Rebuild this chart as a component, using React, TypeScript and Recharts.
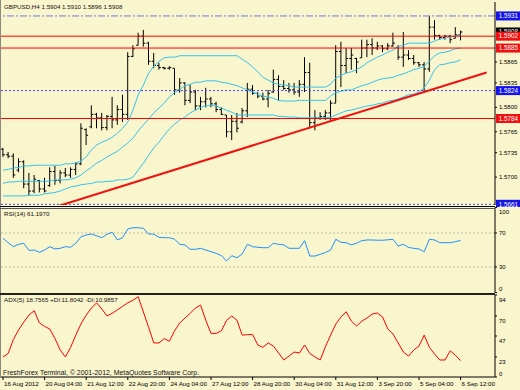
import React from 'react';
import { ComposedChart, Bar, Line, XAxis, YAxis, ReferenceLine } from 'recharts';

const FONT = '"Liberation Sans", Arial, sans-serif';

const symbol = 'GBPUSD,H4';

// H4 bars, 16 Aug 2012 20:00 .. 6 Sep 2012 12:00
const opens = [
  1.5740, 1.5732, 1.5730, 1.5710, 1.5722, 1.5690, 1.5680, 1.5695, 1.5683, 1.5688,
  1.5708, 1.5695, 1.5706, 1.5703, 1.5711, 1.5719, 1.5768, 1.5772, 1.5790, 1.5785,
  1.5771, 1.5787, 1.5782, 1.5797, 1.5790, 1.5873, 1.5889, 1.5902, 1.5892, 1.5866,
  1.5860, 1.5857, 1.5856, 1.5856, 1.5825, 1.5835, 1.5810, 1.5822, 1.5802, 1.5808,
  1.5812, 1.5805, 1.5797, 1.5789, 1.5765, 1.5780, 1.5779, 1.5795, 1.5826, 1.5820,
  1.5816, 1.5812, 1.5822, 1.5840, 1.5830, 1.5827, 1.5825, 1.5822, 1.5833, 1.5850,
  1.5778, 1.5785, 1.5787, 1.5792, 1.5806, 1.5880, 1.5860, 1.5870, 1.5870, 1.5871,
  1.5885, 1.5890, 1.5885, 1.5888, 1.5884, 1.5888, 1.5886, 1.5872, 1.5875, 1.5870,
  1.5864, 1.5861, 1.5855, 1.5915, 1.5903, 1.5900, 1.5902, 1.5899, 1.5904,
];
const highs = [
  1.5742, 1.5736, 1.5734, 1.5727, 1.5724, 1.5706, 1.5703, 1.5696, 1.5699, 1.5714,
  1.5716, 1.5710, 1.5713, 1.5714, 1.5721, 1.5777, 1.5770, 1.5803, 1.5792, 1.5792,
  1.5789, 1.5815, 1.5803, 1.5818, 1.5879, 1.5889, 1.5907, 1.5911, 1.5894, 1.5878,
  1.5864, 1.5858, 1.5859, 1.5856, 1.5842, 1.5836, 1.5832, 1.5825, 1.5815, 1.5828,
  1.5815, 1.5808, 1.5800, 1.5789, 1.5789, 1.5792, 1.5799, 1.5835, 1.5832, 1.5822,
  1.5821, 1.5825, 1.5854, 1.5846, 1.5839, 1.5835, 1.5835, 1.5839, 1.5872, 1.5864,
  1.5796, 1.5793, 1.5796, 1.5810, 1.5889, 1.5894, 1.5885, 1.5885, 1.5871, 1.5897,
  1.5897, 1.5899, 1.5894, 1.5889, 1.5892, 1.5907, 1.5889, 1.5908, 1.5882, 1.5875,
  1.5865, 1.5865, 1.5931, 1.5925, 1.5904, 1.5904, 1.5904, 1.5915, 1.5910,
];
const lows = [
  1.5729, 1.5727, 1.5699, 1.5707, 1.5684, 1.5673, 1.5677, 1.5678, 1.5678, 1.5686,
  1.5689, 1.5691, 1.5700, 1.5699, 1.5703, 1.5717, 1.5746, 1.5770, 1.5770, 1.5767,
  1.5767, 1.5770, 1.5775, 1.5779, 1.5782, 1.5872, 1.5889, 1.5887, 1.5861, 1.5856,
  1.5854, 1.5854, 1.5854, 1.5818, 1.5821, 1.5803, 1.5806, 1.5796, 1.5796, 1.5800,
  1.5800, 1.5793, 1.5789, 1.5757, 1.5753, 1.5764, 1.5777, 1.5786, 1.5818, 1.5813,
  1.5810, 1.5800, 1.5821, 1.5810, 1.5825, 1.5821, 1.5818, 1.5815, 1.5822, 1.5770,
  1.5767, 1.5782, 1.5782, 1.5779, 1.5806, 1.5829, 1.5849, 1.5854, 1.5849, 1.5871,
  1.5872, 1.5875, 1.5882, 1.5879, 1.5882, 1.5887, 1.5868, 1.5858, 1.5868, 1.5861,
  1.5858, 1.5822, 1.5851, 1.5897, 1.5897, 1.5897, 1.5892, 1.5899, 1.5896,
];
const closes = [
  1.5732, 1.5730, 1.5703, 1.5722, 1.5690, 1.5680, 1.5697, 1.5683, 1.5680, 1.5708,
  1.5695, 1.5706, 1.5703, 1.5711, 1.5719, 1.5770, 1.5760, 1.5790, 1.5785, 1.5771,
  1.5787, 1.5782, 1.5797, 1.5790, 1.5873, 1.5884, 1.5902, 1.5892, 1.5866, 1.5860,
  1.5857, 1.5856, 1.5857, 1.5825, 1.5835, 1.5810, 1.5822, 1.5802, 1.5808, 1.5812,
  1.5805, 1.5797, 1.5790, 1.5765, 1.5780, 1.5770, 1.5795, 1.5826, 1.5820, 1.5816,
  1.5812, 1.5820, 1.5840, 1.5830, 1.5827, 1.5825, 1.5822, 1.5833, 1.5850, 1.5778,
  1.5785, 1.5787, 1.5792, 1.5806, 1.5880, 1.5860, 1.5870, 1.5875, 1.5865, 1.5885,
  1.5890, 1.5885, 1.5888, 1.5884, 1.5888, 1.5892, 1.5872, 1.5875, 1.5870, 1.5864,
  1.5861, 1.5855, 1.5915, 1.5903, 1.5900, 1.5902, 1.5897, 1.5904, 1.5908,
];

// Bollinger bands
const bbUpper = [
  1.5710, 1.5711, 1.5713, 1.5714, 1.5716, 1.5716, 1.5717, 1.5717, 1.5717, 1.5717,
  1.5717, 1.5717, 1.5719, 1.5719, 1.5720, 1.5723, 1.5729, 1.5739, 1.5746, 1.5750,
  1.5753, 1.5757, 1.5763, 1.5770, 1.5779, 1.5796, 1.5818, 1.5832, 1.5849, 1.5859,
  1.5866, 1.5871, 1.5872, 1.5872, 1.5874, 1.5874, 1.5874, 1.5874, 1.5874, 1.5874,
  1.5874, 1.5874, 1.5874, 1.5874, 1.5874, 1.5874, 1.5869, 1.5864, 1.5858, 1.5851,
  1.5843, 1.5839, 1.5835, 1.5833, 1.5832, 1.5831, 1.5829, 1.5829, 1.5829, 1.5829,
  1.5829, 1.5829, 1.5829, 1.5833, 1.5842, 1.5846, 1.5849, 1.5851, 1.5854, 1.5858,
  1.5864, 1.5868, 1.5872, 1.5875, 1.5879, 1.5882, 1.5887, 1.5889, 1.5892, 1.5892,
  1.5892, 1.5892, 1.5892, 1.5895, 1.5898, 1.5899, 1.5901, 1.5902, 1.5904,
];
const bbMiddle = [
  1.5691, 1.5693, 1.5693, 1.5694, 1.5694, 1.5694, 1.5694, 1.5694, 1.5694, 1.5694,
  1.5696, 1.5696, 1.5696, 1.5697, 1.5699, 1.5703, 1.5709, 1.5714, 1.5720, 1.5724,
  1.5729, 1.5733, 1.5737, 1.5743, 1.5749, 1.5756, 1.5766, 1.5775, 1.5783, 1.5792,
  1.5799, 1.5806, 1.5815, 1.5821, 1.5826, 1.5831, 1.5833, 1.5836, 1.5836, 1.5838,
  1.5838, 1.5838, 1.5836, 1.5835, 1.5833, 1.5831, 1.5828, 1.5825, 1.5822, 1.5819,
  1.5816, 1.5815, 1.5813, 1.5810, 1.5809, 1.5809, 1.5809, 1.5810, 1.5810, 1.5810,
  1.5810, 1.5810, 1.5810, 1.5816, 1.5821, 1.5823, 1.5825, 1.5825, 1.5828, 1.5831,
  1.5833, 1.5836, 1.5839, 1.5841, 1.5842, 1.5843, 1.5846, 1.5848, 1.5851, 1.5854,
  1.5856, 1.5859, 1.5866, 1.5874, 1.5878, 1.5879, 1.5881, 1.5884, 1.5885,
];
const bbLower = [
  1.5673, 1.5673, 1.5673, 1.5673, 1.5673, 1.5674, 1.5674, 1.5674, 1.5676, 1.5677,
  1.5678, 1.5680, 1.5683, 1.5686, 1.5687, 1.5689, 1.5690, 1.5691, 1.5693, 1.5693,
  1.5694, 1.5694, 1.5696, 1.5696, 1.5697, 1.5700, 1.5710, 1.5720, 1.5731, 1.5742,
  1.5750, 1.5760, 1.5769, 1.5776, 1.5782, 1.5786, 1.5792, 1.5796, 1.5800, 1.5802,
  1.5803, 1.5802, 1.5799, 1.5796, 1.5793, 1.5789, 1.5789, 1.5789, 1.5789, 1.5789,
  1.5789, 1.5789, 1.5789, 1.5787, 1.5787, 1.5786, 1.5786, 1.5785, 1.5785, 1.5785,
  1.5785, 1.5785, 1.5785, 1.5786, 1.5789, 1.5792, 1.5795, 1.5796, 1.5798, 1.5800,
  1.5802, 1.5803, 1.5805, 1.5806, 1.5809, 1.5810, 1.5812, 1.5815, 1.5818, 1.5819,
  1.5822, 1.5828, 1.5839, 1.5854, 1.5861, 1.5862, 1.5864, 1.5865, 1.5868,
];

const rsi14 = [
  63.8, 58.6, 53.9, 56.7, 57.9, 49.5, 50.0, 47.3, 50.0, 53.9,
  51.2, 52.0, 53.9, 53.2, 57.9, 65.6, 67.6, 68.8, 66.8, 64.5,
  68.5, 70.8, 61.8, 64.5, 74.7, 76.2, 76.2, 75.5, 68.8, 68.5,
  64.9, 64.5, 64.5, 62.6, 56.7, 55.9, 50.8, 50.8, 52.0, 50.0,
  48.0, 46.0, 43.5, 37.1, 43.3, 40.9, 45.5, 56.7, 53.9, 53.2,
  52.7, 52.7, 57.9, 56.7, 56.0, 52.0, 52.0, 52.0, 61.0, 42.9,
  42.9, 44.9, 47.0, 50.0, 62.6, 59.0, 58.6, 56.0, 58.0, 61.0,
  61.8, 61.8, 61.5, 61.5, 62.0, 62.6, 54.7, 56.7, 53.0, 52.0,
  51.2, 48.0, 62.6, 61.8, 58.6, 58.6, 58.6, 59.8, 61.197,
];

const adx5 = [
  23, 27, 43, 54, 63, 71, 76, 62, 58, 55,
  44, 31, 23, 34, 48, 61, 71, 79, 85, 78,
  70, 73, 77, 81, 85, 88, 92, 74.5, 57, 39,
  39, 44, 41, 53, 62, 67.6, 73, 79, 82.5, 65,
  50, 50, 53, 65, 70, 65, 48, 48.5, 48.7, 36.7,
  34, 39, 35.5, 27.5, 19.5, 24, 28.6, 27.5, 36.7, 27,
  23, 19.5, 34.7, 48, 60.7, 68.8, 74.8, 64, 58.4, 64,
  67.6, 72.2, 73.4, 68.8, 55, 49.3, 39, 28.6, 24, 31,
  35.5, 48, 34, 26.3, 19.5, 19.5, 30, 25, 18.7565,
];
const plusDI = 11.8042;
const minusDI = 10.9857;

const timeTicks = [0, 8, 16, 24, 32, 40, 48, 56, 64, 72, 80, 88];
const timeLabels = [
  '16 Aug 2012', '20 Aug 04:00', '21 Aug 12:00', '22 Aug 20:00', '24 Aug 04:00', '27 Aug 12:00',
  '28 Aug 20:00', '30 Aug 04:00', '31 Aug 12:00', '3 Sep 20:00', '5 Sep 04:00', '6 Sep 12:00',
];

const priceTicks = [1.5865, 1.5835, 1.58, 1.5765, 1.5735, 1.57];
const redLevels = [1.5902, 1.5885, 1.5784];
const dashDotLevels = [1.5931];
const dottedLevels = [1.5824, 1.5661];
const bidPrice = 1.5908;
const trendPoints = [{ x: 10, y: 1.5657 }, { x: 93, y: 1.585 }];
const rsiLevels = [70, 30];
const rsiTicks = [0, 30, 70, 100];
const adxTicks = [0, 23, 47, 70, 94];

const rows = opens.map((open, i) => ({
  i,
  open,
  high: highs[i],
  low: lows[i],
  close: closes[i],
  range: [lows[i], highs[i]],
  bbU: bbUpper[i],
  bbM: bbMiddle[i],
  bbL: bbLower[i],
  rsi: rsi14[i],
  adx: adx5[i],
}));

const X_DOMAIN = [-0.385, 94.615];
const BG = '#F9F5CC';
const BAND = '#34C4F0';

const OhlcBar = (props: any) => {
  const { x, y, width, height, payload } = props;
  if (x == null || !payload) return null;
  const cx = x + width / 2;
  const top = Math.min(y, y + height);
  const bottom = Math.max(y, y + height);
  const span = payload.high - payload.low;
  const k = span > 0 ? (bottom - top) / span : 0;
  const yOpen = top + (payload.high - payload.open) * k;
  const yClose = top + (payload.high - payload.close) * k;
  return (
    <g stroke="#000" strokeWidth={1}>
      <line x1={cx} x2={cx} y1={top} y2={bottom} />
      <line x1={cx - 2} x2={cx} y1={yOpen} y2={yOpen} />
      <line x1={cx} x2={cx + 2} y1={yClose} y2={yClose} />
    </g>
  );
};

const PriceTag = (props: any) => {
  const { viewBox, tagColor, tagText } = props;
  if (!viewBox) return null;
  const left = viewBox.x + viewBox.width + 1;
  const cy = viewBox.y;
  return (
    <g>
      <rect x={left} y={cy - 4.5} width={25} height={9} fill={tagColor} />
      <text x={left + 12.5} y={cy + 2.2} textAnchor="middle" fill="#fff" fontSize={6.3} fontFamily={FONT}>
        {tagText}
      </text>
    </g>
  );
};

// indicator axis labels, nudged inside the panel like the terminal does
const makeSideTick = (top: number, shift: number) => (p: any) => {
  const v = p.payload.value;
  let dy = shift;
  if (v === top) dy = 4.5;
  if (v === 0) dy = -3.5;
  return (
    <text x={p.x} y={p.y + dy + 2} fontSize={6} fill="#000" fontFamily={FONT}>
      {v}
    </text>
  );
};

const TimeTick = (p: any) => {
  const idx = timeTicks.indexOf(p.payload.value);
  return (
    <text x={p.x + 1} y={p.y + 4} fontSize={6.2} fill="#000" fontFamily={FONT}>
      {timeLabels[idx]}
    </text>
  );
};

const yAxisProps = {
  orientation: 'right' as const,
  width: 25,
  interval: 0 as const,
  tickSize: 2,
  tickMargin: 2,
  axisLine: { stroke: '#000' },
  tickLine: { stroke: '#000' },
  allowDataOverflow: true,
};

export default function App() {
  const last = rows[rows.length - 1];
  const header = `${symbol}  ${last.open.toFixed(4)} ${last.high.toFixed(4)} ${last.low.toFixed(4)} ${last.close.toFixed(4)}`;
  const rsiTitle = `RSI(14) ${last.rsi.toFixed(4)}`;
  const adxTitle = `ADX(5) ${last.adx.toFixed(4)} +DI:${plusDI.toFixed(4)} -DI:${minusDI.toFixed(4)}`;

  return (
    <div style={{ position: 'absolute', left: 0, top: 0, width: 520, height: 390, background: BG, overflow: 'hidden' }}>
      {/* price panel */}
      <div style={{ position: 'absolute', left: 0, top: 0 }}>
        <ComposedChart width={520} height={207} data={rows} margin={{ top: 2, right: 0, bottom: 2, left: 1 }}>
          <XAxis type="number" dataKey="i" domain={X_DOMAIN} hide allowDataOverflow />
          <YAxis
            {...yAxisProps}
            domain={[1.566, 1.5951]}
            ticks={priceTicks}
            tick={{ fontSize: 6, fill: '#000', fontFamily: FONT }}
            tickFormatter={(v: number) => v.toFixed(4)}
          />
          <Line dataKey="bbU" stroke={BAND} strokeWidth={1} dot={false} isAnimationActive={false} />
          <Line dataKey="bbM" stroke={BAND} strokeWidth={1} dot={false} isAnimationActive={false} />
          <Line dataKey="bbL" stroke={BAND} strokeWidth={1} dot={false} isAnimationActive={false} />
          <Bar dataKey="range" barSize={1} shape={(p: any) => <OhlcBar {...p} />} isAnimationActive={false} />
          <ReferenceLine y={bidPrice} stroke="none" label={<PriceTag tagColor="#000" tagText={bidPrice.toFixed(4)} />} />
          {dashDotLevels.map((v) => (
            <ReferenceLine key={`dd${v}`} y={v} stroke="#7474E6" strokeDasharray="7 2 2 2"
              label={<PriceTag tagColor="#1414E8" tagText={v.toFixed(4)} />} />
          ))}
          {dottedLevels.map((v) => (
            <ReferenceLine key={`dt${v}`} y={v} stroke="#4646F0" strokeDasharray="2 2"
              label={<PriceTag tagColor="#1414E8" tagText={v.toFixed(4)} />} />
          ))}
          {redLevels.map((v) => (
            <ReferenceLine key={`r${v}`} y={v} stroke="#FF0000" strokeWidth={1}
              label={<PriceTag tagColor="#F01010" tagText={v.toFixed(4)} />} />
          ))}
          <ReferenceLine segment={trendPoints} stroke="#F01010" strokeWidth={2} ifOverflow="hidden" />
        </ComposedChart>
      </div>

      {/* RSI panel */}
      <div style={{ position: 'absolute', left: 0, top: 205 }}>
        <ComposedChart width={520} height={90} data={rows} margin={{ top: 2.5, right: 0, bottom: 2.5, left: 1 }}>
          <XAxis type="number" dataKey="i" domain={X_DOMAIN} hide allowDataOverflow />
          <YAxis {...yAxisProps} domain={[0, 100]} ticks={rsiTicks} tick={makeSideTick(100, 0)} />
          {rsiLevels.map((v) => (
            <ReferenceLine key={`l${v}`} y={v} stroke="#BDBCA8" strokeDasharray="2 2" />
          ))}
          <Line dataKey="rsi" stroke="#1E90FF" strokeWidth={1} dot={false} isAnimationActive={false} />
        </ComposedChart>
      </div>

      {/* ADX panel with time axis */}
      <div style={{ position: 'absolute', left: 0, top: 293 }}>
        <ComposedChart width={520} height={97} data={rows} margin={{ top: 2, right: 0, bottom: 2, left: 1 }}>
          <XAxis
            type="number"
            dataKey="i"
            domain={X_DOMAIN}
            allowDataOverflow
            ticks={timeTicks}
            interval={0}
            height={11}
            tickSize={3}
            tickMargin={2}
            axisLine={{ stroke: '#000' }}
            tickLine={{ stroke: '#000' }}
            tick={TimeTick}
          />
          <YAxis {...yAxisProps} domain={[0, 94]} ticks={adxTicks} tick={makeSideTick(94, 5)} />
          <Line dataKey="adx" stroke="#FF0000" strokeWidth={1} dot={false} isAnimationActive={false} />
        </ComposedChart>
      </div>

      {/* panel frames */}
      <div style={{ position: 'absolute', left: 0, top: 0, width: 1, height: 378, background: '#8A8A80' }} />
      <div style={{ position: 'absolute', left: 0, top: 206, width: 495, height: 1, background: '#000' }} />
      <div style={{ position: 'absolute', left: 0, top: 208, width: 495, height: 1, background: '#555' }} />
      <div style={{ position: 'absolute', left: 0, top: 293, width: 495, height: 2, background: '#222' }} />

      <svg width={520} height={390} style={{ position: 'absolute', left: 0, top: 0, pointerEvents: 'none' }}>
        <g fontFamily={FONT} fill="#111">
          <text x={4} y={9} fontSize={6.2}>{header}</text>
          <text x={4} y={216} fontSize={6.2}>{rsiTitle}</text>
          <text x={4} y={302} fontSize={6.2}>{adxTitle}</text>
          <text x={3} y={375} fontSize={6.9}>FreshForex Terminal, © 2001-2012, MetaQuotes Software Corp.</text>
        </g>
      </svg>
    </div>
  );
}
